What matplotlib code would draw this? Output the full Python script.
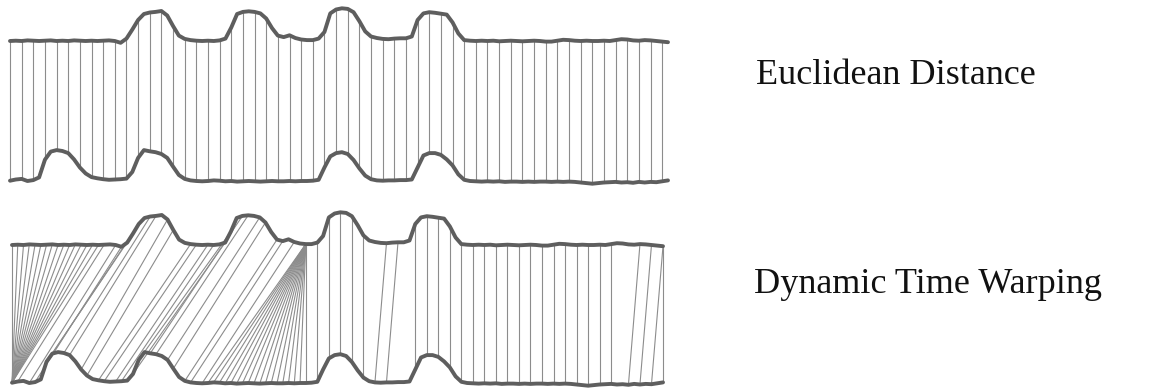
import numpy as np
import matplotlib.pyplot as plt

# Two recordings of the same signal; the second one has its first two bumps early
series_a = [
    0.00, 0.01, 0.00, 0.02, 0.01, 0.00, 0.01, 0.02, 0.00, 0.01,
    0.00, 0.02, 0.01, 0.00, 0.01, 0.00, 0.01, 0.02, 0.00, -0.06,
    0.08, 0.38, 0.70, 0.90, 0.95, 0.97, 1.00, 0.85, 0.50, 0.18,
    0.07, 0.03, 0.01, 0.00, 0.01, 0.00, 0.02, 0.08, 0.45, 0.90,
    0.97, 0.99, 0.97, 0.92, 0.75, 0.43, 0.18, 0.13, 0.19, 0.10,
    0.05, 0.03, 0.03, 0.08, 0.30, 0.92, 1.05, 1.09, 1.07, 0.96,
    0.66, 0.32, 0.15, 0.10, 0.07, 0.06, 0.08, 0.09, 0.09, 0.15,
    0.70, 0.92, 0.96, 0.94, 0.91, 0.88, 0.62, 0.25, 0.03, 0.01,
    0.00, 0.01, 0.00, 0.01, -0.01, 0.00, 0.01, 0.00, -0.01, 0.00,
    0.01, 0.00, -0.02, -0.02, 0.01, 0.04, 0.03, 0.01, 0.00, 0.01,
    0.00, 0.00, 0.01, 0.00, 0.03, 0.06, 0.05, 0.02, 0.01, 0.03,
    0.02, 0.00, -0.02, -0.04,
]
series_b = [
    0.01, 0.05, 0.07, 0.00, 0.03, 0.12, 0.71, 0.98, 1.03, 1.00,
    0.93, 0.72, 0.45, 0.25, 0.13, 0.09, 0.06, 0.04, 0.05, 0.06,
    0.08, 0.30, 0.77, 1.03, 0.99, 0.96, 0.90, 0.77, 0.48, 0.20,
    0.07, 0.02, 0.00, -0.01, 0.00, 0.02, 0.01, -0.01, 0.00, -0.02,
    -0.01, 0.00, -0.01, -0.02, -0.01, 0.00, -0.01, -0.01, 0.00, -0.01,
    0.00, 0.00, 0.01, 0.04, 0.45, 0.82, 0.93, 0.96, 0.90, 0.70,
    0.42, 0.18, 0.06, 0.02, 0.01, 0.02, 0.02, 0.03, 0.03, 0.05,
    0.45, 0.85, 0.93, 0.93, 0.87, 0.72, 0.52, 0.22, 0.04, 0.00,
    -0.01, -0.02, -0.01, -0.02, -0.01, -0.03, -0.02, -0.02, -0.03, -0.02,
    -0.03, -0.02, -0.02, -0.03, -0.02, -0.03, -0.02, -0.03, -0.05, -0.07,
    -0.09, -0.07, -0.05, -0.04, -0.03, -0.05, -0.04, -0.06, -0.03, -0.05,
    -0.03, -0.04, -0.01, 0.02,
]

# Euclidean distance: point i of one series against point i of the other
euclid_idx = list(range(0, 113, 2))

# Warping path (index in series_a, index in series_b) for the DTW alignment
dtw_a_idx = ([0, 1, 2, 3, 4, 5, 6, 7, 8, 9, 10, 11, 12, 13, 14, 15]
             + [16, 18, 19, 21, 22, 24, 25, 27, 28, 31, 32, 34, 35, 37, 38,
                40, 41, 43, 44, 46, 47, 49]
             + [51] * 18
             + [53, 55, 57, 59, 61, 65, 67, 70, 72, 74, 76, 78, 80, 82, 84,
                86, 88, 90, 92, 94, 96, 98, 100, 102, 104, 109, 111, 113, 113])
dtw_b_idx = ([0] * 16
             + [1, 3, 4, 6, 7, 9, 10, 12, 13, 15, 16, 18, 19, 21, 22,
                24, 25, 27, 28, 30, 31, 33]
             + list(range(34, 52))
             + [53, 55, 57, 59, 61, 63, 65, 70, 72, 74, 76, 78, 80, 82, 84,
                86, 88, 90, 92, 94, 96, 98, 100, 102, 104, 107, 109, 111, 113])

labels = ["Euclidean Distance", "Dynamic Time Warping"]

a = np.array(series_a)
b = np.array(series_b)
x = np.arange(len(a))

W, H = 1159, 392
fig = plt.figure(figsize=(W / 100, H / 100), dpi=100)

series_color = "#5e5e5e"
link_color = "#8c8c8c"


def draw_pair(ax, gap, a_idx, b_idx):
    top = a + gap
    for i, j in zip(a_idx, b_idx):
        ax.plot([x[i], x[j]], [top[i], b[j]], color=link_color, lw=0.8,
                zorder=1, clip_on=False)
    for y in (top, b):
        ax.plot(x, y, color=series_color, lw=2.8, zorder=2,
                solid_joinstyle="round", solid_capstyle="round", clip_on=False)
    ax.set_xlim(0, len(a) - 1)
    ax.axis("off")


# Euclidean panel
ax1 = fig.add_axes([10 / W, 0.5, 658 / W, 0.5])
draw_pair(ax1, 140 / 30, euclid_idx, euclid_idx)
ax1.set_ylim(-15 / 30, 181 / 30)

# Dynamic Time Warping panel
ax2 = fig.add_axes([12 / W, 0.0, 651 / W, 0.5])
draw_pair(ax2, 138 / 30, dtw_a_idx, dtw_b_idx)
ax2.set_ylim(-9 / 30, 187 / 30)

text_kw = dict(family="Liberation Serif", fontsize=26, ha="center",
               va="baseline", color="#111111")
fig.text(896 / W, 1 - 84 / H, labels[0], **text_kw)
fig.text(928 / W, 1 - 293 / H, labels[1], **text_kw)

fig.savefig("out.png", dpi=100, facecolor="white")
